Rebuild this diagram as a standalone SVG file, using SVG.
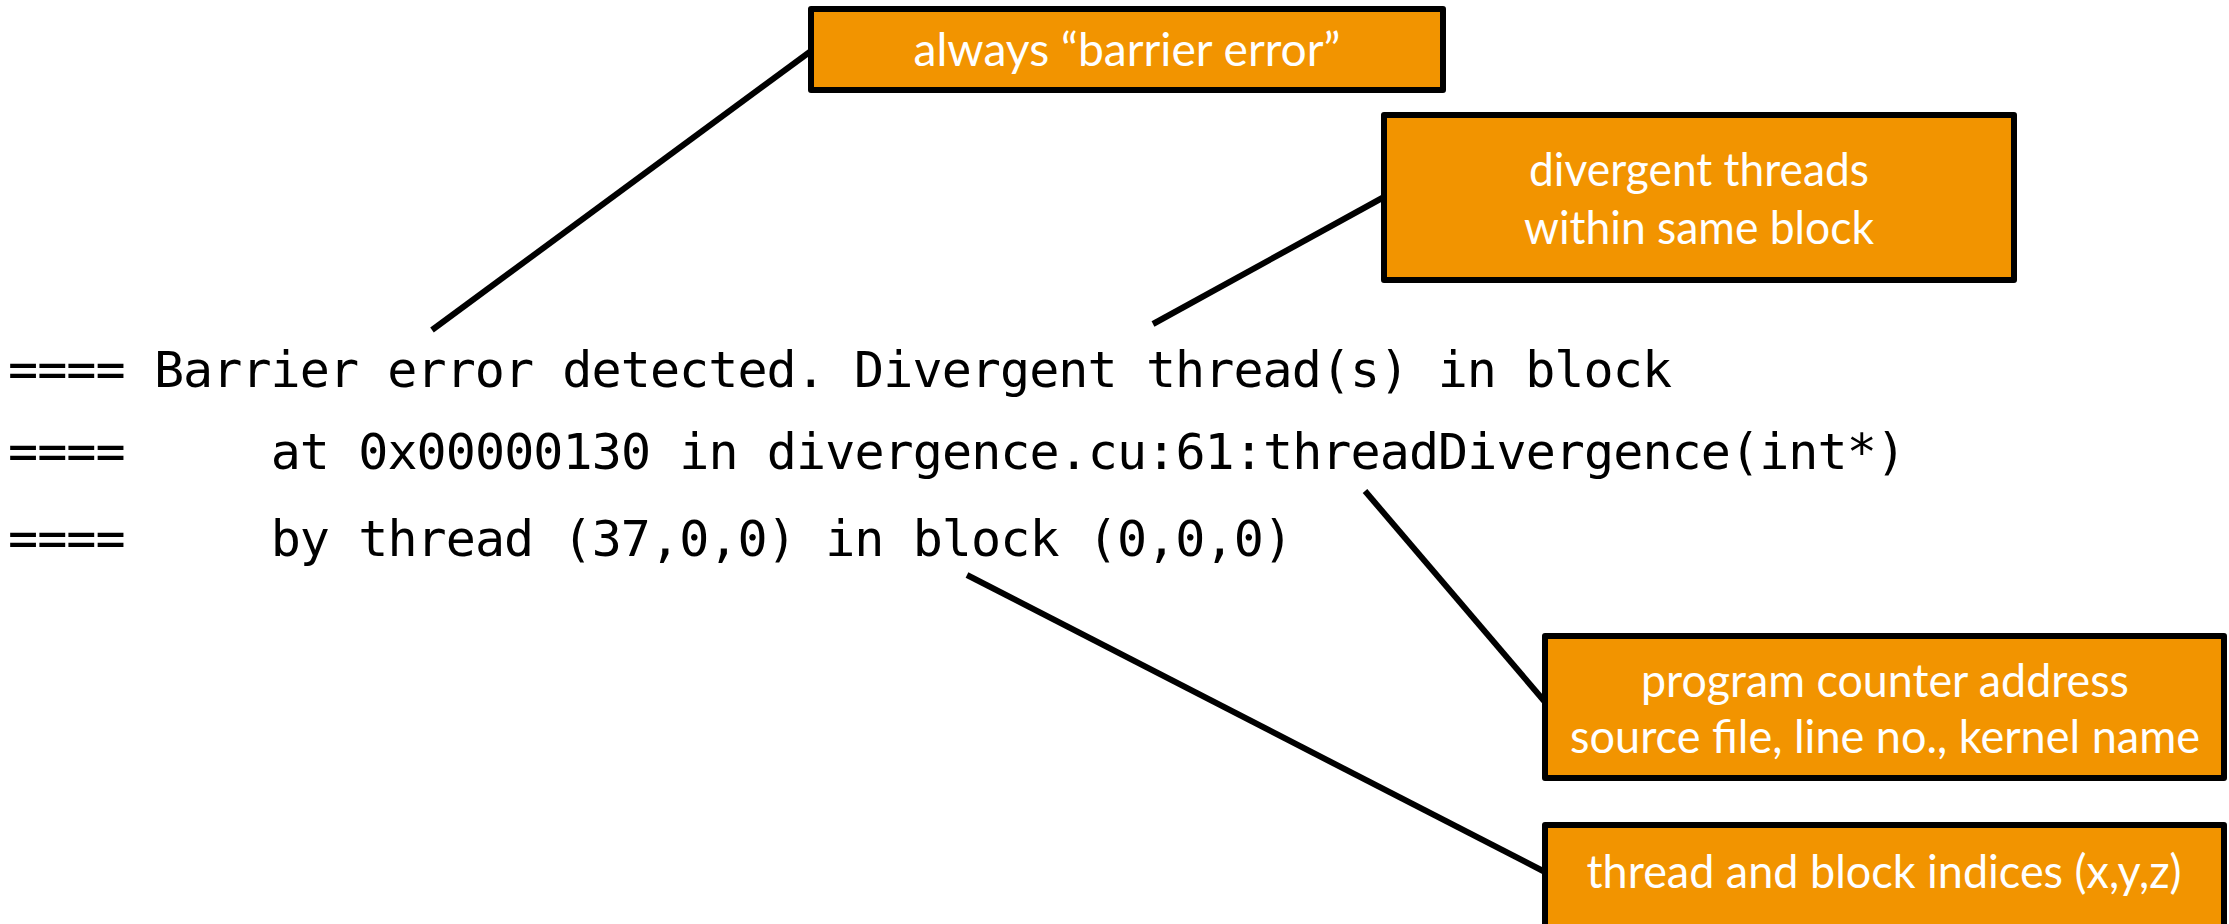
<svg xmlns="http://www.w3.org/2000/svg" width="2229" height="924" viewBox="0 0 2229 924">
<style>
.box{fill:#F29400;stroke:#000;stroke-width:6;stroke-linejoin:round}
.lbl{font-family:Lato,"Open Sans","Liberation Sans",sans-serif;font-size:46px;fill:#fff;text-anchor:middle}
.code{font-family:"DejaVu Sans Mono","Liberation Mono",monospace;font-size:50px;fill:#000}
.conn line{stroke:#000;stroke-width:6;stroke-linecap:butt}
</style>
<rect width="2229" height="924" fill="#fff"/>
<g id="code">
<text class="code" x="8" y="387" xml:space="preserve" textLength="1664" lengthAdjust="spacing">==== Barrier error detected. Divergent thread(s) in block</text>
<text class="code" x="8" y="469" xml:space="preserve" textLength="1898" lengthAdjust="spacing">====     at 0x00000130 in divergence.cu:61:threadDivergence(int*)</text>
<text class="code" x="8" y="556" xml:space="preserve" textLength="1285" lengthAdjust="spacing">====     by thread (37,0,0) in block (0,0,0)</text>
</g>
<g id="connectors" class="conn">
<line x1="432" y1="330" x2="811" y2="51"/>
<line x1="1153" y1="324" x2="1384" y2="197"/>
<line x1="1365" y1="491" x2="1545" y2="702"/>
<line x1="967" y1="575" x2="1545" y2="872"/>
</g>
<g id="node-barrier">
<rect class="box" x="811" y="9" width="632" height="81"/>
<text class="lbl" x="1127" y="66" textLength="427" lengthAdjust="spacingAndGlyphs">always “barrier error”</text>
</g>
<g id="node-divergent">
<rect class="box" x="1384" y="115" width="630" height="165"/>
<text class="lbl" x="1699" y="186" textLength="340" lengthAdjust="spacingAndGlyphs">divergent threads</text>
<text class="lbl" x="1699" y="244" textLength="350" lengthAdjust="spacingAndGlyphs">within same block</text>
</g>
<g id="node-pc">
<rect class="box" x="1545" y="636" width="679" height="142"/>
<text class="lbl" x="1885" y="697" textLength="488" lengthAdjust="spacingAndGlyphs">program counter address</text>
<text class="lbl" x="1885" y="753" textLength="630" lengthAdjust="spacingAndGlyphs">source file, line no., kernel name</text>
</g>
<g id="node-indices">
<rect class="box" x="1545" y="825" width="679" height="120"/>
<text class="lbl" x="1884" y="888" textLength="595" lengthAdjust="spacingAndGlyphs">thread and block indices (x,y,z)</text>
</g>
</svg>
